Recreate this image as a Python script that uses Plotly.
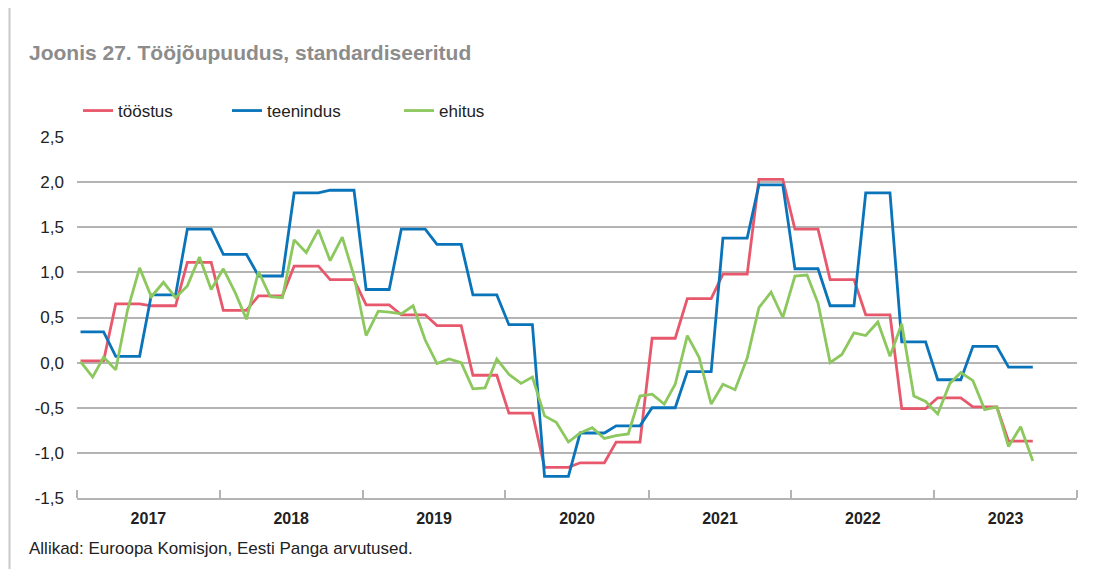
import plotly.graph_objects as go
import pandas as pd

# ---- data (monthly, Jan 2017 .. Sep 2023) ----
toostus = [0.02, 0.02, 0.02, 0.65, 0.65, 0.65, 0.63, 0.63, 0.63, 1.11, 1.11, 1.11,
           0.58, 0.58, 0.58, 0.74, 0.74, 0.74, 1.07, 1.07, 1.07, 0.92, 0.92, 0.92,
           0.64, 0.64, 0.64, 0.53, 0.53, 0.53, 0.41, 0.41, 0.41, -0.14, -0.14, -0.14,
           -0.56, -0.56, -0.56, -1.16, -1.16, -1.16, -1.11, -1.11, -1.11, -0.88, -0.88, -0.88,
           0.27, 0.27, 0.27, 0.71, 0.71, 0.71, 0.98, 0.98, 0.98, 2.03, 2.03, 2.03,
           1.48, 1.48, 1.48, 0.92, 0.92, 0.92, 0.53, 0.53, 0.53, -0.51, -0.51, -0.51,
           -0.39, -0.39, -0.39, -0.49, -0.49, -0.49, -0.87, -0.87, -0.87]
teenindus = [0.34, 0.34, 0.34, 0.07, 0.07, 0.07, 0.75, 0.75, 0.75, 1.48, 1.48, 1.48,
             1.20, 1.20, 1.20, 0.96, 0.96, 0.96, 1.88, 1.88, 1.88, 1.91, 1.91, 1.91,
             0.81, 0.81, 0.81, 1.48, 1.48, 1.48, 1.31, 1.31, 1.31, 0.75, 0.75, 0.75,
             0.42, 0.42, 0.42, -1.26, -1.26, -1.26, -0.78, -0.78, -0.78, -0.70, -0.70, -0.70,
             -0.50, -0.50, -0.50, -0.10, -0.10, -0.10, 1.38, 1.38, 1.38, 1.97, 1.97, 1.97,
             1.04, 1.04, 1.04, 0.63, 0.63, 0.63, 1.88, 1.88, 1.88, 0.23, 0.23, 0.23,
             -0.19, -0.19, -0.19, 0.18, 0.18, 0.18, -0.05, -0.05, -0.05]
ehitus = [0.01, -0.16, 0.06, -0.08, 0.58, 1.05, 0.73, 0.89, 0.72, 0.85, 1.17, 0.81,
          1.04, 0.77, 0.48, 1.01, 0.73, 0.72, 1.36, 1.22, 1.47, 1.13, 1.39, 0.96,
          0.30, 0.57, 0.56, 0.54, 0.63, 0.25, -0.01, 0.04, 0.00, -0.29, -0.28, 0.04,
          -0.13, -0.23, -0.16, -0.59, -0.66, -0.88, -0.78, -0.72, -0.84, -0.81, -0.79, -0.37,
          -0.35, -0.46, -0.24, 0.30, 0.06, -0.46, -0.24, -0.30, 0.05, 0.61, 0.78, 0.50,
          0.96, 0.97, 0.66, 0.00, 0.09, 0.33, 0.30, 0.45, 0.07, 0.43, -0.37, -0.43,
          -0.57, -0.23, -0.11, -0.20, -0.52, -0.49, -0.93, -0.71, -1.09]

series_names = ["tööstus", "teenindus", "ehitus"]
series_values = [toostus, teenindus, ehitus]
series_colors = ["#E8586C", "#0A74BA", "#8CC85E"]

months = pd.date_range("2017-01-01", periods=len(toostus), freq="MS") + pd.Timedelta(days=9)

y_tickvals = [-1.5, -1.0, -0.5, 0.0, 0.5, 1.0, 1.5, 2.0, 2.5]
y_ticktext = ["-1,5", "-1,0", "-0,5", "0,0", "0,5", "1,0", "1,5", "2,0", "2,5"]

title_text = "Joonis 27. Tööjõupuudus, standardiseeritud"
source_text = "Allikad: Euroopa Komisjon, Eesti Panga arvutused."

FONT = "Liberation Sans, Arial, sans-serif"
GRID = "#B4B4B4"

# ---- layout geometry (pixels, page coordinates; page body has an 8px margin) ----
OFF = 8
W, H = 1095 - OFF, 569 - OFF
ML, MR, MT, MB = 77 - OFF, 18, 137 - OFF, 71
PW, PH = W - ML - MR, H - MT - MB


def px_x(px):
    return (px - OFF - ML) / PW


def px_y(py):
    return (H - MB - (py - OFF)) / PH


fig = go.Figure()
legend_ids = ["legend", "legend2", "legend3"]
legend_px = [78, 227, 399]
for name, vals, col, lid in zip(series_names, series_values, series_colors, legend_ids):
    fig.add_trace(go.Scatter(
        x=months, y=vals, name=name, mode="lines",
        line=dict(color=col, width=2.8),
        legend=lid, hoverinfo="x+y+name",
    ))

legend_common = dict(orientation="h", xanchor="left", yanchor="middle",
                     font=dict(family=FONT, size=17, color="#222222"),
                     bgcolor="rgba(0,0,0,0)", borderwidth=0)
layout_legends = {}
for lid, lx in zip(legend_ids, legend_px):
    layout_legends[lid] = dict(legend_common, x=px_x(lx), y=px_y(111))

fig.update_layout(
    width=W, height=H,
    margin=dict(l=ML, r=MR, t=MT, b=MB, pad=0),
    paper_bgcolor="white", plot_bgcolor="white",
    font=dict(family=FONT, size=16, color="#222222"),
    showlegend=True,
    **layout_legends,
    xaxis=dict(
        type="date",
        range=["2017-01-01", "2024-01-01"],
        tick0="2017-01-01", dtick="M12", tickformat="%Y",
        ticklabelmode="period",
        ticks="inside", ticklen=8, tickcolor=GRID, tickwidth=1.5,
        ticklabelstandoff=5,
        showgrid=False, showline=True, linecolor=GRID, linewidth=1.5,
        tickfont=dict(family=FONT, size=16, color="#222222", weight="bold"),
        fixedrange=True,
    ),
    yaxis=dict(
        range=[-1.5, 2.5],
        tickvals=y_tickvals, ticktext=y_ticktext,
        showgrid=True, gridcolor=GRID, gridwidth=1.5,
        zeroline=False, showline=False, ticks="",
        ticklabelstandoff=12,
        tickfont=dict(family=FONT, size=17, color="#222222"),
        fixedrange=True,
    ),
    annotations=[
        dict(text=title_text, xref="paper", yref="paper",
             x=px_x(27), y=px_y(52), xanchor="left", yanchor="middle",
             showarrow=False,
             font=dict(family=FONT, size=21, color="#8C8C8C", weight="bold")),
        dict(text=source_text, xref="paper", yref="paper",
             x=px_x(27), y=px_y(548), xanchor="left", yanchor="middle",
             showarrow=False,
             font=dict(family=FONT, size=17, color="#222222")),
    ],
    shapes=[
        dict(type="line", xref="paper", yref="paper",
             x0=px_x(9.5), x1=px_x(9.5), y0=px_y(569), y1=px_y(OFF),
             line=dict(color="#C8C8C8", width=2)),
    ],
)

fig.write_html("out.html")
